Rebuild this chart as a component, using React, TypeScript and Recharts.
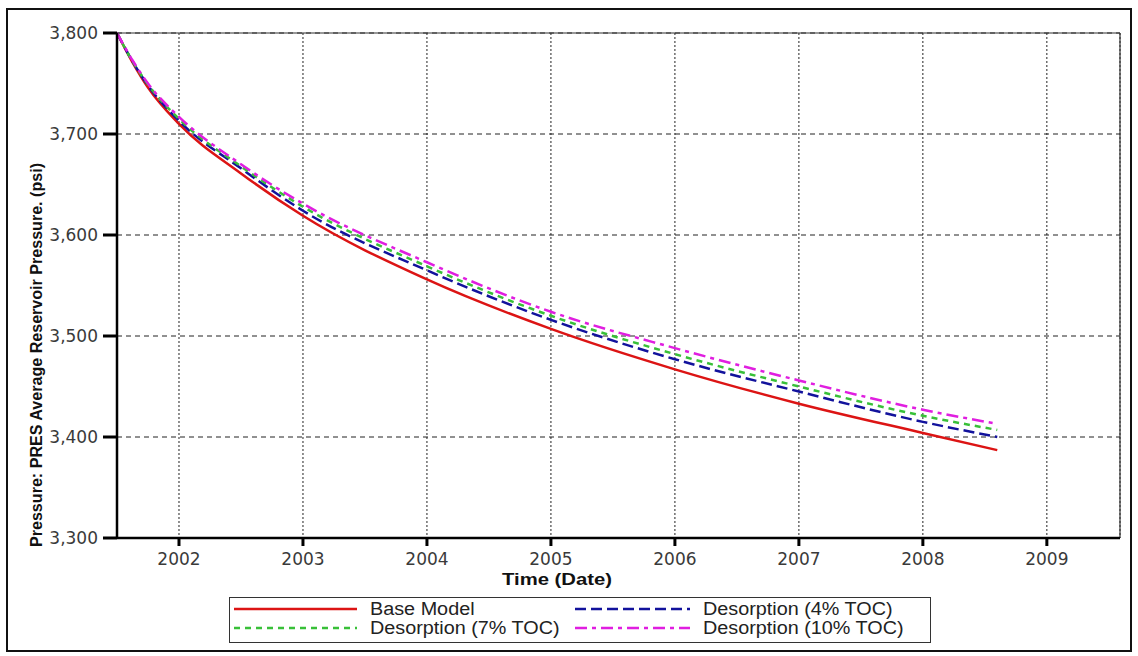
import { CartesianGrid, Label, Line, LineChart, ReferenceLine, XAxis, YAxis } from "recharts"

// simulation output, average reservoir pressure (psi) vs time (decimal year)
const years = [2001.5, 2001.625, 2001.75, 2002, 2002.5, 2003, 2004, 2005, 2006, 2007, 2008, 2008.6]
const baseModel = [3800, 3771, 3746, 3710, 3661, 3619, 3556, 3507, 3467, 3433, 3404, 3387]
const toc4 = [3800, 3772, 3748, 3713, 3666, 3624, 3565, 3516, 3477, 3445, 3415, 3400]
const toc7 = [3800, 3772, 3749, 3715, 3668, 3628, 3569, 3520, 3482, 3450, 3421, 3407]
const toc10 = [3800, 3773, 3750, 3717, 3670, 3631, 3573, 3524, 3488, 3456, 3427, 3413]

const xTicks = [2002, 2003, 2004, 2005, 2006, 2007, 2008, 2009]
const yTicks = [3300, 3400, 3500, 3600, 3700, 3800]
const xDomain = [2001.5, 2009.59]

const series = [
  { key: "base", name: "Base Model", color: "#dc1414", dash: undefined },
  { key: "toc4", name: "Desorption (4% TOC)", color: "#12129c", dash: "11 5" },
  { key: "toc7", name: "Desorption (7% TOC)", color: "#38c038", dash: "6 5" },
  { key: "toc10", name: "Desorption (10% TOC)", color: "#e01ee0", dash: "12 5 4 5" },
]

const data = years.map((year, i) => ({
  year,
  base: baseModel[i],
  toc4: toc4[i],
  toc7: toc7[i],
  toc10: toc10[i],
}))

const tickStyle = { fontFamily: "DejaVu Sans", fontSize: 17, fill: "#3a3a3a" }

function ChartLegend() {
  return (
    <div
      style={{
        position: "absolute",
        left: 229,
        top: 597,
        width: 702,
        height: 46,
        border: "1.5px solid #333",
        boxSizing: "border-box",
        background: "#fff",
        fontFamily: "Liberation Sans, Arial, sans-serif",
        fontSize: 18,
        color: "#222",
      }}
    >
      {series.map((s, i) => {
        const col = i % 2
        const row = Math.floor(i / 2)
        const sampleLeft = col ? 345 : 4
        const sampleWidth = col ? 115 : 123
        const top = row ? 30 : 11
        return (
          <div key={s.key}>
            <svg
              style={{ position: "absolute", left: sampleLeft, top: top - 3 }}
              width={sampleWidth}
              height={6}
            >
              <line x1={0} y1={3} x2={sampleWidth} y2={3} stroke={s.color} strokeWidth={2.5} strokeDasharray={s.dash} />
            </svg>
            <span
              style={{
                position: "absolute",
                left: col ? 473 : 140,
                top: top - 10,
                lineHeight: "20px",
                whiteSpace: "nowrap",
                transform: "scaleX(1.1)",
                transformOrigin: "left center",
              }}
            >
              {s.name}
            </span>
          </div>
        )
      })}
    </div>
  )
}

export default function App() {
  return (
    <div style={{ position: "absolute", left: 0, top: 0, width: 1138, height: 656, background: "#fff" }}>
      <div
        style={{
          position: "absolute",
          left: 6,
          top: 8,
          width: 1126,
          height: 644,
          border: "2px solid #111",
          boxSizing: "border-box",
        }}
      />
      <div style={{ position: "absolute", left: 0, top: 0 }}>
        <LineChart width={1138} height={656} data={data} margin={{ top: 33, right: 18, left: 0, bottom: 78 }}>
          <CartesianGrid vertical={false} stroke="#222" strokeDasharray="5 4" />
          <CartesianGrid horizontal={false} stroke="#222" strokeDasharray="2 2" />
          <XAxis
            dataKey="year"
            type="number"
            domain={xDomain}
            ticks={xTicks}
            allowDataOverflow
            height={40}
            tick={tickStyle}
            tickSize={8}
            tickMargin={7}
            tickLine={{ stroke: "#000", strokeWidth: 3 }}
            axisLine={{ stroke: "#000", strokeWidth: 2.5 }}
          >
            <Label
              content={() => (
                <text
                  x={557}
                  y={585}
                  textAnchor="middle"
                  fontFamily="Liberation Sans"
                  fontWeight="bold"
                  fontSize={17}
                  fill="#111"
                  textLength={110}
                  lengthAdjust="spacingAndGlyphs"
                >
                  Time (Date)
                </text>
              )}
            />
          </XAxis>
          <YAxis
            type="number"
            domain={[3300, 3800]}
            ticks={yTicks}
            width={117}
            tick={tickStyle}
            tickFormatter={(v: number) => v.toLocaleString("en-US")}
            tickSize={14}
            tickMargin={5}
            tickLine={{ stroke: "#000", strokeWidth: 3 }}
            axisLine={{ stroke: "#000", strokeWidth: 2.5 }}
          >
            <Label
              content={() => (
                <text
                  x={0}
                  y={0}
                  transform="translate(42 355) rotate(-90)"
                  textAnchor="middle"
                  fontFamily="Liberation Sans"
                  fontWeight="bold"
                  fontSize={16}
                  fill="#111"
                  textLength={384}
                  lengthAdjust="spacingAndGlyphs"
                >
                  Pressure: PRES Average Reservoir Pressure. (psi)
                </text>
              )}
            />
          </YAxis>
          <ReferenceLine y={3800} stroke="#333" strokeWidth={1.2} />
          <ReferenceLine x={xDomain[1]} stroke="#333" strokeWidth={1.2} />
          {series.map((s) => (
            <Line
              key={s.key}
              type="monotone"
              dataKey={s.key}
              name={s.name}
              stroke={s.color}
              strokeWidth={2.5}
              strokeDasharray={s.dash}
              dot={false}
              isAnimationActive={false}
            />
          ))}
        </LineChart>
      </div>
      <ChartLegend />
    </div>
  )
}
